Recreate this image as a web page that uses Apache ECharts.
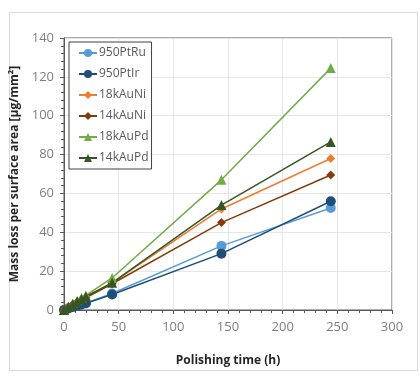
<!DOCTYPE html>
<html><head><meta charset="utf-8">
<script src="https://cdn.jsdelivr.net/npm/echarts@6/dist/echarts.min.js"></script>
<style>html,body{margin:0;padding:0;background:#fff}#c{width:420px;height:380px}</style>
</head><body><div id="c"></div>
<script>
const times = [0, 4, 8, 12, 16, 20, 44, 144, 244];
const seriesNames = ['950PtRu', '950PtIr', '18kAuNi', '14kAuNi', '18kAuPd', '14kAuPd'];
const ptRu = [0, 0.8, 1.5, 2.2, 2.8, 3.5, 8.5, 33, 52.5];
const ptIr = [0, 0.8, 1.5, 2.2, 2.8, 3.5, 8.0, 29, 56];
const auNi18 = [0, 1.5, 3.0, 4.2, 5.5, 6.5, 14.0, 52, 78];
const auNi14 = [0, 1.4, 2.8, 4.0, 5.2, 6.2, 13.5, 45, 69.5];
const auPd18 = [0, 1.7, 3.3, 4.8, 6.2, 7.5, 16.5, 67, 124.5];
const auPd14 = [0, 1.5, 3.0, 4.4, 5.7, 7.0, 14.0, 54, 86.5];
const xTicks = [0, 50, 100, 150, 200, 250, 300];
const yTicks = [0, 20, 40, 60, 80, 100, 120, 140];

const colors = ['#5b9bd5', '#1f4e79', '#ed7d31', '#843c0c', '#70ad47', '#375623'];
const symbols = ['circle', 'circle', 'diamond', 'diamond', 'triangle', 'triangle'];
const sizes = [10, 10, 9, 9, 10, 10];
const values = [ptRu, ptIr, auNi18, auNi14, auPd18, auPd14];

const chart = echarts.init(document.getElementById('c'));
const font = '"Open Sans", "Noto Sans", sans-serif';
chart.setOption({
  animation: false,
  textStyle: { fontFamily: font },
  graphic: [{ type: 'rect', shape: { x: 9.5, y: 12.5, width: 408, height: 358 },
    style: { fill: 'none', stroke: '#d9d9d9', lineWidth: 1 }, z: -1 }],
  grid: { left: 64, right: 28, top: 38, bottom: 70, show: true, borderColor: '#595959', borderWidth: 1 },
  legend: {
    orient: 'vertical', left: 69, top: 42,
    data: seriesNames,
    itemWidth: 18, itemHeight: 10, itemGap: 9,
    padding: [5, 3, 5, 9],
    borderColor: '#404040', borderWidth: 1, backgroundColor: '#fff',
    textStyle: { fontSize: 12, color: '#595959', fontFamily: font, padding: [0, 0, 0, -3] }
  },
  xAxis: {
    type: 'value', min: 0, max: 300, interval: 50,
    name: 'Polishing time (h)', nameLocation: 'middle', nameGap: 45,
    nameTextStyle: { fontSize: 12, fontWeight: 'bold', color: '#262626' },
    axisLine: { lineStyle: { color: '#595959' } },
    axisTick: { show: true, length: 4, lineStyle: { color: '#595959' } },
    minorTick: { show: true, splitNumber: 5, length: 3, lineStyle: { color: '#595959' } },
    splitLine: { lineStyle: { color: '#e6e6e6' } },
    axisLabel: { fontSize: 13, color: '#7f7f7f', margin: 11,
      formatter: v => xTicks.includes(v) ? String(v) : '' }
  },
  yAxis: {
    type: 'value', min: 0, max: 140, interval: 20,
    name: 'Mass loss per surface area [µg/mm²]', nameLocation: 'middle', nameGap: 34,
    nameTextStyle: { fontSize: 12, fontWeight: 'bold', color: '#262626' },
    axisLine: { show: true, lineStyle: { color: '#595959' } },
    axisTick: { show: true, length: 4, lineStyle: { color: '#595959' } },
    minorTick: { show: true, splitNumber: 5, length: 3, lineStyle: { color: '#595959' } },
    splitLine: { lineStyle: { color: '#e6e6e6' } },
    axisLabel: { fontSize: 13, color: '#7f7f7f', margin: 10,
      formatter: v => yTicks.includes(v) ? String(v) : '' }
  },
  series: seriesNames.map((n, i) => ({
    name: n, type: 'line',
    data: times.map((t, j) => [t, values[i][j]]),
    symbol: symbols[i], symbolSize: sizes[i], showSymbol: true,
    lineStyle: { color: colors[i], width: 1.5 },
    itemStyle: { color: colors[i] },
    emphasis: { disabled: true }
  }))
});
</script></body></html>
